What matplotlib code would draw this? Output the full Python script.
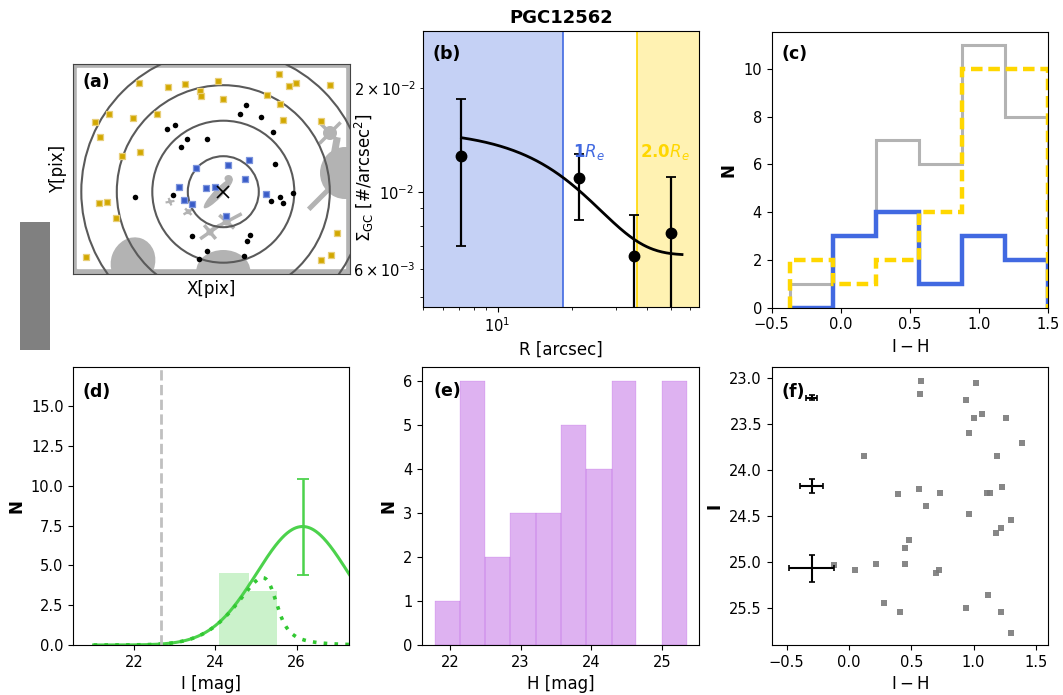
import numpy as np
import matplotlib
matplotlib.use('Agg')
import matplotlib.pyplot as plt
from matplotlib.patches import Circle, Ellipse, Polygon, Rectangle

# ---------------- data ----------------
# (a) GC candidate positions on the image (pixel units)
yellow_x = [66.3, 94.7, 112.3, 145.3, 206.3, 216.3, 223.0, 257.0, 127.0, 128.0, 150.3, 193.7, 207.0,
            210.3, 247.7, 22.0, 35.7, 60.3, 83.7, 27.0, 48.7, 67.0, 26.3, 34.3, 42.7, 13.0, 263.7, 258.0, 247.7]
yellow_y = [190.7, 187.3, 189.7, 193.3, 200.0, 188.3, 190.7, 189.3, 183.3, 178.0, 174.7, 178.7, 170.0,
            154.0, 152.7, 152.3, 159.7, 155.7, 159.7, 137.3, 118.0, 122.0, 71.0, 72.3, 56.3, 17.3, 40.7, 19.0, 14.0]
black_x = [173.0, 167.3, 187.7, 200.3, 102.0, 94.3, 114.3, 134.3, 107.7, 201.7, 61.7, 100.3, 220.3, 207.0,
           197.7, 209.7, 119.0, 177.0, 174.3, 134.3, 126.0, 171.0]
black_y = [169.0, 159.7, 157.0, 142.3, 149.3, 144.7, 135.3, 135.0, 126.7, 109.7, 77.0, 79.3, 80.7, 77.3,
           72.7, 71.0, 38.0, 38.7, 32.7, 23.3, 14.7, 18.3]
blue_x = [123.0, 155.3, 176.3, 172.3, 106.3, 133.0, 142.3, 111.0, 119.3, 192.7, 153.3]
blue_y = [106.3, 109.0, 113.7, 95.3, 87.3, 86.0, 87.3, 74.0, 70.0, 79.7, 58.3]
gal_center = (150.3, 82.3)
ring_radii = [35.5, 71.0, 106.5, 142.0]

# (b) radial surface density profile
R_pts = [7.15, 21.3, 35.6, 50.1]
sig_pts = [0.0127, 0.0110, 0.00657, 0.00765]
sig_lo = [0.00702, 0.00835, 0.0001, 0.0001]
sig_hi = [0.0185, 0.0129, 0.00858, 0.0111]
fit_bg, fit_amp, fit_r0 = 0.0066, 0.00857, 22.6     # fitted profile parameters
fit_rmin, fit_rmax = 7.15, 55.5
R_e1, R_e2 = 18.3, 36.6

# (c) colour histograms (I-H)
c_edges = [-0.367, -0.056, 0.256, 0.567, 0.878, 1.189, 1.5]
c_all = [1, 3, 7, 6, 11, 8]
c_inner = [0, 3, 4, 1, 3, 2]
c_outer = [2, 1, 2, 4, 10, 10]

# (d) luminosity function
d_edges = [24.10, 24.82, 25.53]
d_counts = [4.54, 3.41]
gclf_peak, gclf_sigma, gclf_amp = 26.15, 1.13, 7.45
peak_err_lo, peak_err_hi = 4.40, 10.46
comp_m50, comp_alpha = 25.45, 3.1
tip_mag = 22.65

# (e) H magnitude histogram
e_edges = [21.79, 22.145, 22.50, 22.855, 23.215, 23.57, 23.93, 24.29, 24.64, 25.0, 25.355]
e_counts = [1, 6, 2, 3, 3, 5, 4, 6, 0, 6]

# (f) colour-magnitude diagram
f_col = [0.58, 1.02, 0.57, 0.94, 1.07, 1.00, 1.26, 0.96, 1.39, 0.12, 1.19, 0.56, 1.23, 0.39, 0.73, 1.11,
         1.13, 0.62, 0.96, 1.30, 1.22, 1.18, 0.48, 0.45, -0.12, 0.22, 0.45, 0.05, 0.72, 0.70, 1.12, 0.28,
         0.94, 0.41, 1.22, 1.30]
f_mag = [23.03, 23.05, 23.17, 23.24, 23.39, 23.43, 23.43, 23.59, 23.70, 23.84, 23.84, 24.20, 24.18, 24.26,
         24.25, 24.25, 24.25, 24.39, 24.48, 24.54, 24.63, 24.68, 24.76, 24.85, 25.03, 25.02, 25.02, 25.08,
         25.08, 25.12, 25.36, 25.44, 25.50, 25.54, 25.54, 25.77]
err_col_x = [-0.30, -0.30, -0.30]
err_mag_y = [23.21, 24.17, 25.065]
err_col = [0.044, 0.094, 0.18]
err_mag = [0.025, 0.078, 0.145]

# ---------------- figure ----------------
W, H = 1063, 695
fig = plt.figure(figsize=(W / 100, H / 100), dpi=100)
TICK = 10.5
LAB = 12


def box(l, t, r, b):
    return [l / W, 1 - b / H, (r - l) / W, (b - t) / H]


def panel_label(ax, s, x=0.035, y=0.915):
    ax.text(x, y, s, transform=ax.transAxes, fontsize=12.5, fontweight='bold', ha='left', va='center')


# gray strip at the far left
axs = fig.add_axes(box(20, 222, 50, 350))
axs.set_axis_off()
axs.add_patch(Rectangle((0, 0), 1, 1, color='#808080', transform=axs.transAxes))

# ---- (a) ----
axa = fig.add_axes(box(73, 64, 350, 274))
mask = '#b3b3b3'
axa.set_facecolor(mask)
axa.set_xlim(0, 277)
axa.set_ylim(0, 210)
axa.add_patch(Rectangle((3.5, 6), 268.5, 200, color='white', zorder=0.5))


def bar_poly(cx, cy, length, width, ang):
    a = np.deg2rad(ang)
    u = np.array([np.cos(a), np.sin(a)])
    v = np.array([-np.sin(a), np.cos(a)])
    c = np.array([cx, cy])
    pts = [c + u * length / 2 + v * width / 2, c - u * length / 2 + v * width / 2,
           c - u * length / 2 - v * width / 2, c + u * length / 2 - v * width / 2]
    return Polygon(pts, closed=True, color=mask, zorder=1, lw=0)


def star(cx, cy, r, l1, a1, l2, a2, w):
    axa.add_patch(Circle((cx, cy), r, color=mask, zorder=1, lw=0))
    axa.add_patch(bar_poly(cx, cy, l1, w, a1))
    axa.add_patch(bar_poly(cx, cy, l2, w, a2))


axa.add_patch(Ellipse((60, 12), 44, 50, angle=-20, color=mask, zorder=1, lw=0))
axa.add_patch(Ellipse((150.3, 3), 54, 42, color=mask, zorder=1, lw=0))
axa.add_patch(Ellipse((272, 101), 50, 52, color=mask, zorder=1, lw=0))
axa.add_patch(bar_poly(247, 76, 32, 5, 45))
star(257, 141, 7, 30, 45, 26, -45, 3.5)
axa.add_patch(bar_poly(262, 124, 26, 7, 80))
axa.add_patch(Ellipse((145.3, 80.7), 41, 9, angle=46, color=mask, zorder=1, lw=0))
axa.add_patch(Ellipse((155.5, 95.5), 8, 7, color=mask, zorder=1, lw=0))
star(153.7, 52.3, 4, 34, 28, 20, -42, 3.5)
star(137, 42, 3.5, 24, 35, 18, -50, 3.5)
star(115.3, 62.3, 2.5, 11, 30, 9, -45, 2.5)
star(97, 72.3, 2.0, 9, 10, 8, -70, 2.2)

for r in ring_radii:
    axa.add_patch(Circle(gal_center, r, fill=False, ec='#5a5a5a', lw=1.5, zorder=2))
axa.scatter(yellow_x, yellow_y, s=16, marker='s', c='#d2a800', edgecolors='#e8cf7a', linewidths=0.9, zorder=3)
axa.scatter(black_x, black_y, s=16, c='black', zorder=3, lw=0)
axa.scatter(blue_x, blue_y, s=18, marker='s', c='#3a5cc8', edgecolors='#7d95dd', linewidths=0.9, zorder=3)
axa.plot(*gal_center, marker='x', color='black', ms=8, mew=1.2, zorder=4)
axa.set_xticks([])
axa.set_yticks([])
axa.set_xlabel('X[pix]', fontsize=LAB)
axa.set_ylabel('Y[pix]', fontsize=LAB)
for s in axa.spines.values():
    s.set_color('#444444')
panel_label(axa, '(a)', 0.035, 0.915)

# ---- (b) ----
axb = fig.add_axes(box(423, 31, 699, 307))
axb.set_xscale('log')
axb.set_yscale('log')
axb.set_xlim(5.0, 65.0)
axb.set_ylim(0.004677, 0.02911)
axb.axvspan(5.0, R_e1, color='royalblue', alpha=0.3, lw=0)
axb.axvline(R_e1, color='royalblue', lw=1.2)
axb.axvspan(R_e2, 65.0, color='gold', alpha=0.3, lw=0)
axb.axvline(R_e2, color='gold', lw=1.2)
rr = np.geomspace(fit_rmin, fit_rmax, 200)
axb.plot(rr, fit_bg + fit_amp * np.exp(-(rr / fit_r0) ** 2), color='black', lw=2)
yerr = [np.array(sig_pts) - np.array(sig_lo), np.array(sig_hi) - np.array(sig_pts)]
axb.errorbar(R_pts, sig_pts, yerr=yerr, fmt='o', color='black', ms=7.5, lw=1.6, capsize=3.5, capthick=1.3)
axb.text(20.1, 0.0131, r'$\mathbf{1}R_e$', color='royalblue', fontsize=12, va='center', ha='left')
axb.text(37.6, 0.0131, r'$\mathbf{2.0}R_e$', color='gold', fontsize=12, va='center', ha='left')
axb.set_xlabel('R [arcsec]', fontsize=LAB)
axb.set_ylabel(r'$\Sigma_{\rm GC}$ [#/arcsec$^2$]', fontsize=LAB)
axb.yaxis.set_label_coords(-0.17, 0.47)
axb.tick_params(which='both', labelsize=TICK)
axb.set_title('PGC12562', fontsize=13, fontweight='bold', pad=6)
panel_label(axb, '(b)', 0.036, 0.917)

# ---- (c) ----
axc = fig.add_axes(box(771.7, 31.7, 1048, 307.7))
axc.stairs(c_all, c_edges, color='#b3b3b3', lw=2.2, baseline=0)
axc.stairs(c_inner, c_edges, color='royalblue', lw=3.2, baseline=0)
axc.stairs(c_outer, c_edges, color='gold', lw=3.2, ls=(0, (2.6, 1.3)), baseline=0)
axc.set_xlim(-0.5, 1.5)
axc.set_ylim(0, 11.55)
axc.set_xticks([-0.5, 0.0, 0.5, 1.0, 1.5])
axc.set_yticks([0, 2, 4, 6, 8, 10])
axc.set_xlabel(r'$\mathrm{I-H}$', fontsize=LAB)
axc.set_ylabel('N', fontsize=LAB, fontweight='bold')
axc.tick_params(labelsize=TICK)
panel_label(axc, '(c)', 0.036, 0.92)

# ---- (d) ----
axd = fig.add_axes(box(73.3, 366.7, 349.3, 645))
axd.bar(d_edges[:-1], d_counts, width=np.diff(d_edges), align='edge', color='limegreen', alpha=0.25, lw=0)
mm = np.linspace(21.0, 27.3, 400)
g = gclf_amp * np.exp(-0.5 * ((mm - gclf_peak) / gclf_sigma) ** 2)
dm = mm - comp_m50
comp = 0.5 * (1 - comp_alpha * dm / np.sqrt(1 + (comp_alpha * dm) ** 2))
axd.plot(mm, g, color='#4cd24c', lw=2.2)
axd.plot(mm, g * comp, color='#32c832', lw=2.6, ls=(0, (1, 2.0)))
axd.errorbar([gclf_peak], [gclf_amp], yerr=[[gclf_amp - peak_err_lo], [peak_err_hi - gclf_amp]],
             fmt='none', ecolor='#4cd24c', lw=1.8, capsize=4, capthick=1.3)
axd.axvline(tip_mag, color='#c0c0c0', ls='--', lw=2)
axd.set_xlim(20.5, 27.3)
axd.set_ylim(0, 17.5)
axd.set_xticks([22, 24, 26])
axd.set_yticks([0, 2.5, 5, 7.5, 10, 12.5, 15])
axd.set_yticklabels(['0.0', '2.5', '5.0', '7.5', '10.0', '12.5', '15.0'])
axd.set_xlabel('I [mag]', fontsize=LAB)
axd.set_ylabel('N', fontsize=LAB, fontweight='bold')
axd.tick_params(labelsize=TICK)
panel_label(axd, '(d)', 0.035, 0.91)

# ---- (e) ----
axe = fig.add_axes(box(422, 367.3, 699.3, 645))
axe.bar(e_edges[:-1], e_counts, width=np.diff(e_edges), align='edge', color='darkviolet', alpha=0.3,
        lw=0.3, edgecolor='darkviolet')
axe.set_xlim(21.603, 25.533)
axe.set_ylim(0, 6.3)
axe.set_xticks([22, 23, 24, 25])
axe.set_xlabel('H [mag]', fontsize=LAB)
axe.set_ylabel('N', fontsize=LAB, fontweight='bold')
axe.tick_params(labelsize=TICK)
panel_label(axe, '(e)', 0.04, 0.915)

# ---- (f) ----
axf = fig.add_axes(box(771.7, 366.7, 1048.3, 645))
axf.scatter(f_col, f_mag, s=22, marker='s', color='#7a7a7a', alpha=0.9, lw=0)
axf.errorbar(err_col_x, err_mag_y, xerr=err_col, yerr=err_mag, fmt='none', ecolor='black', lw=1.5,
             capsize=2.5, capthick=1.2)
axf.set_xlim(-0.62, 1.6)
axf.set_ylim(25.9, 22.874)
axf.set_xticks([-0.5, 0.0, 0.5, 1.0, 1.5])
axf.set_yticks([23.0, 23.5, 24.0, 24.5, 25.0, 25.5])
axf.set_xlabel(r'$\mathrm{I-H}$', fontsize=LAB)
axf.set_ylabel('I', fontsize=LAB, fontweight='bold')
axf.tick_params(labelsize=TICK)
panel_label(axf, '(f)', 0.035, 0.91)

fig.savefig('out.png', dpi=100)
